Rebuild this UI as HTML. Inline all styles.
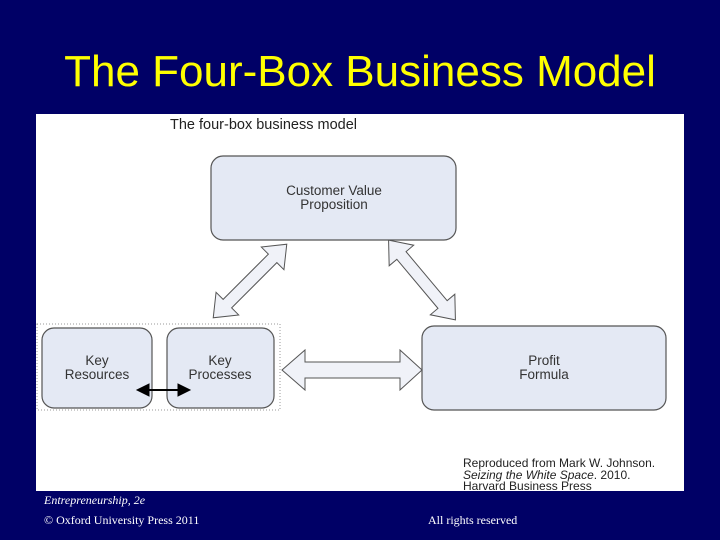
<!DOCTYPE html>
<html><head><style>
body{margin:0;width:720px;height:540px;background:#000066;position:relative;overflow:hidden;font-family:"Liberation Sans",sans-serif}
.t{position:absolute;left:0;width:720px;top:43px;text-align:center;color:#ffff00;font-size:44px;line-height:58px}
.img{position:absolute;left:36px;top:114px;width:648px;height:377px;background:#fff}
.f{position:absolute;color:#fff;font-family:"Liberation Serif",serif;font-size:12px}
</style></head><body>
<div class="t">The Four-Box Business Model</div>
<div class="img"></div>
<svg width="720" height="540" style="position:absolute;left:0;top:0" font-family="Liberation Sans, sans-serif" font-size="13.5" fill="#333">
<text x="170" y="129" font-size="14.5" fill="#222">The four-box business model</text>
<rect x="37" y="324" width="243" height="86" fill="none" stroke="#999" stroke-dasharray="1,2"/>
<g fill="#e4e9f4" stroke="#555" stroke-width="1.2">
<rect x="211" y="156" width="245" height="84" rx="12"/>
<rect x="42" y="328" width="110" height="80" rx="12"/>
<rect x="167" y="328" width="107" height="80" rx="12"/>
<rect x="422" y="326" width="244" height="84" rx="12"/>
</g>
<g fill="#f0f2f8" stroke="#555" stroke-width="1">
<polygon points="282,370 305,350 305,362 400,362 400,350 422,370 400,390 400,378 305,378 305,390"/>
<g transform="translate(250,281) rotate(-45)"><polygon points="-52,0 -32,-16 -32,-6 32,-6 32,-16 52,0 32,16 32,6 -32,6 -32,16"/></g>
<g transform="translate(422,280) rotate(50)"><polygon points="-52,0 -32,-16 -32,-6 32,-6 32,-16 52,0 32,16 32,6 -32,6 -32,16"/></g>
</g>
<g fill="#000" stroke="#000"><line x1="145" y1="390" x2="182" y2="390" stroke-width="2"/><polygon points="137,390 149,384 149,396"/><polygon points="190,390 178,384 178,396"/></g>
<g text-anchor="middle">
<text x="334" y="195">Customer Value</text><text x="334" y="209">Proposition</text>
<text x="97" y="365">Key</text><text x="97" y="379">Resources</text>
<text x="220" y="365">Key</text><text x="220" y="379">Processes</text>
<text x="544" y="365">Profit</text><text x="544" y="379">Formula</text>
</g>
<g font-size="12" fill="#222"><text x="463" y="467">Reproduced from Mark W. Johnson.</text><text x="463" y="479"><tspan font-style="italic">Seizing the White Space</tspan>. 2010.</text><text x="463" y="490">Harvard Business Press</text></g>
</svg>
<div class="f" style="left:44px;top:493px;font-style:italic">Entrepreneurship, 2e</div>
<div class="f" style="left:44px;top:513px">© Oxford University Press 2011</div>
<div class="f" style="left:428px;top:513px">All rights reserved</div>
</body></html>
